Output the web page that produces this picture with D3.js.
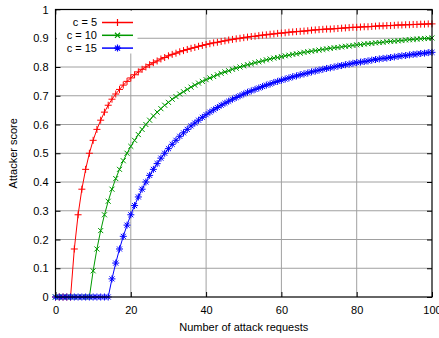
<!DOCTYPE html>
<html>
<head>
<meta charset="utf-8">
<script src="https://cdn.jsdelivr.net/npm/d3@7"></script>
<style>
  html, body { margin: 0; padding: 0; background: #fff; }
  svg text { font-family: "Liberation Sans", Arial, sans-serif; font-size: 11px; fill: #000; }
</style>
</head>
<body>
<svg id="chart" width="439" height="338"></svg>
<script>
// Number of attack requests (0..100)
const requests = d3.range(0, 101);

// Attacker score per request count, one series per threshold c
const scoreC5 = [
  0, 0, 0, 0, 0, 0.167, 0.286, 0.375, 0.444, 0.5,
  0.545, 0.583, 0.615, 0.643, 0.667, 0.688, 0.706, 0.722, 0.737, 0.75,
  0.762, 0.773, 0.783, 0.792, 0.8, 0.808, 0.815, 0.821, 0.828, 0.833,
  0.839, 0.844, 0.848, 0.853, 0.857, 0.861, 0.865, 0.868, 0.872, 0.875,
  0.878, 0.881, 0.884, 0.886, 0.889, 0.891, 0.894, 0.896, 0.898, 0.9,
  0.902, 0.904, 0.906, 0.907, 0.909, 0.911, 0.912, 0.914, 0.915, 0.917,
  0.918, 0.919, 0.921, 0.922, 0.923, 0.924, 0.925, 0.926, 0.928, 0.929,
  0.93, 0.931, 0.932, 0.932, 0.933, 0.934, 0.935, 0.936, 0.937, 0.938,
  0.938, 0.939, 0.94, 0.94, 0.941, 0.942, 0.943, 0.943, 0.944, 0.944,
  0.945, 0.946, 0.946, 0.947, 0.947, 0.948, 0.948, 0.949, 0.949, 0.95,
  0.95
];
const scoreC10 = [
  0, 0, 0, 0, 0, 0, 0, 0, 0, 0,
  0.091, 0.167, 0.231, 0.286, 0.333, 0.375, 0.412, 0.444, 0.474, 0.5,
  0.524, 0.545, 0.565, 0.583, 0.6, 0.615, 0.63, 0.643, 0.655, 0.667,
  0.677, 0.688, 0.697, 0.706, 0.714, 0.722, 0.73, 0.737, 0.744, 0.75,
  0.756, 0.762, 0.767, 0.773, 0.778, 0.783, 0.787, 0.792, 0.796, 0.8,
  0.804, 0.808, 0.811, 0.815, 0.818, 0.821, 0.825, 0.828, 0.831, 0.833,
  0.836, 0.839, 0.841, 0.844, 0.846, 0.848, 0.851, 0.853, 0.855, 0.857,
  0.859, 0.861, 0.863, 0.865, 0.867, 0.868, 0.87, 0.872, 0.873, 0.875,
  0.877, 0.878, 0.88, 0.881, 0.882, 0.884, 0.885, 0.886, 0.888, 0.889,
  0.89, 0.891, 0.892, 0.894, 0.895, 0.896, 0.897, 0.898, 0.899, 0.9,
  0.901
];
const scoreC15 = [
  0, 0, 0, 0, 0, 0, 0, 0, 0, 0,
  0, 0, 0, 0, 0, 0.063, 0.118, 0.167, 0.211, 0.25,
  0.286, 0.318, 0.348, 0.375, 0.4, 0.423, 0.444, 0.464, 0.483, 0.5,
  0.516, 0.531, 0.545, 0.559, 0.571, 0.583, 0.595, 0.605, 0.615, 0.625,
  0.634, 0.643, 0.651, 0.659, 0.667, 0.674, 0.681, 0.688, 0.694, 0.7,
  0.706, 0.712, 0.717, 0.722, 0.727, 0.732, 0.737, 0.741, 0.746, 0.75,
  0.754, 0.758, 0.762, 0.766, 0.769, 0.773, 0.776, 0.779, 0.783, 0.786,
  0.789, 0.792, 0.795, 0.797, 0.8, 0.803, 0.805, 0.808, 0.81, 0.813,
  0.815, 0.817, 0.819, 0.821, 0.824, 0.826, 0.828, 0.83, 0.831, 0.833,
  0.835, 0.837, 0.839, 0.84, 0.842, 0.844, 0.845, 0.847, 0.848, 0.85,
  0.851
];

const seriesLabels = ["c = 5", "c = 10", "c = 15"];
const seriesColors = ["#ff0000", "#009900", "#0000ff"];
const seriesMarkers = ["plus", "cross", "star"];
const xTicks = [0, 20, 40, 60, 80, 100];
const yTicks = [0, 0.1, 0.2, 0.3, 0.4, 0.5, 0.6, 0.7, 0.8, 0.9, 1];

const series = [scoreC5, scoreC10, scoreC15].map((vals, i) => ({
  label: seriesLabels[i], color: seriesColors[i], marker: seriesMarkers[i],
  points: requests.map((n, k) => [n, vals[k]])
}));

const svg = d3.select("#chart");
const plotLeft = 55.5, plotRight = 432, plotTop = 9.5, plotBottom = 297;
const x = d3.scaleLinear().domain([0, 100]).range([plotLeft, plotRight]);
const y = d3.scaleLinear().domain([0, 1]).range([plotBottom, plotTop]);

// grid
const grid = svg.append("g").attr("stroke", "#a0a0a0").attr("stroke-width", 1);
xTicks.slice(1, -1).forEach(t => {
  grid.append("line").attr("x1", x(t)).attr("x2", x(t)).attr("y1", plotTop).attr("y2", plotBottom);
});
yTicks.slice(1, -1).forEach(t => {
  grid.append("line").attr("x1", plotLeft).attr("x2", plotRight).attr("y1", y(t)).attr("y2", y(t));
});

// axes with inward ticks (mirrored on top/right)
const tickLen = 5;
const axB = svg.append("g").attr("transform", `translate(0,${plotBottom})`)
  .call(d3.axisBottom(x).tickValues(xTicks).tickSizeInner(-tickLen).tickSizeOuter(0).tickPadding(9).tickFormat(d3.format("d")));
const axL = svg.append("g").attr("transform", `translate(${plotLeft},0)`)
  .call(d3.axisLeft(y).tickValues(yTicks).tickSizeInner(-tickLen).tickSizeOuter(0).tickPadding(7).tickFormat(d => d === 0 || d === 1 ? d3.format("d")(d) : d3.format(".1f")(d)));
const axT = svg.append("g").attr("transform", `translate(0,${plotTop})`)
  .call(d3.axisTop(x).tickValues(xTicks).tickSizeInner(-tickLen).tickSizeOuter(0).tickFormat(""));
const axR = svg.append("g").attr("transform", `translate(${plotRight},0)`)
  .call(d3.axisRight(y).tickValues(yTicks).tickSizeInner(-tickLen).tickSizeOuter(0).tickFormat(""));
[axB, axL, axT, axR].forEach(a => {
  a.select(".domain").remove();
  a.selectAll("line").attr("stroke", "#000");
  a.selectAll("text").style("font-family", "'Liberation Sans', Arial, sans-serif").style("font-size", "11px").attr("fill", "#000");
});

// markers
function markerPath(type, s) {
  const p = d3.path();
  if (type === "plus" || type === "star") {
    p.moveTo(-s, 0); p.lineTo(s, 0); p.moveTo(0, -s); p.lineTo(0, s);
  }
  if (type === "cross" || type === "star") {
    const d = s * 0.72;
    p.moveTo(-d, -d); p.lineTo(d, d); p.moveTo(-d, d); p.lineTo(d, -d);
  }
  return p.toString();
}

const line = d3.line().x(d => x(d[0])).y(d => y(d[1]));
const plot = svg.append("g");
series.forEach(s => {
  const g = plot.append("g");
  g.append("path").datum(s.points).attr("d", line)
    .attr("fill", "none").attr("stroke", s.color).attr("stroke-width", 1);
  g.selectAll("path.m").data(s.points).join("path").attr("class", "m")
    .attr("transform", d => `translate(${x(d[0])},${y(d[1])})`)
    .attr("d", markerPath(s.marker, 3.5))
    .attr("fill", "none").attr("stroke", s.color).attr("stroke-width", 1);
});

// legend with opaque background
const legend = svg.append("g");
legend.append("rect").attr("x", plotLeft + 1).attr("y", plotTop + 1)
  .attr("width", 81).attr("height", 43).attr("fill", "#fff");
series.forEach((s, i) => {
  const ly = 22.5 + i * 12.8;
  legend.append("text").attr("x", 97).attr("y", ly).attr("dy", "0.35em")
    .attr("text-anchor", "end").text(s.label);
  legend.append("line").attr("x1", 102).attr("x2", 133).attr("y1", ly).attr("y2", ly)
    .attr("stroke", s.color).attr("stroke-width", 1.5);
  legend.append("path").attr("transform", `translate(117.5,${ly})`)
    .attr("d", markerPath(s.marker, 3.5)).attr("fill", "none")
    .attr("stroke", s.color).attr("stroke-width", 1.2);
});

// border
svg.append("rect").attr("x", plotLeft).attr("y", plotTop)
  .attr("width", plotRight - plotLeft).attr("height", plotBottom - plotTop)
  .attr("fill", "none").attr("stroke", "#000").attr("stroke-width", 1.2);

// axis titles
svg.append("text").attr("x", (plotLeft + plotRight) / 2).attr("y", 331)
  .attr("text-anchor", "middle").text("Number of attack requests");
svg.append("text").attr("transform", `translate(17,${(plotTop + plotBottom) / 2}) rotate(-90)`)
  .attr("text-anchor", "middle").text("Attacker score");
</script>
</body>
</html>
